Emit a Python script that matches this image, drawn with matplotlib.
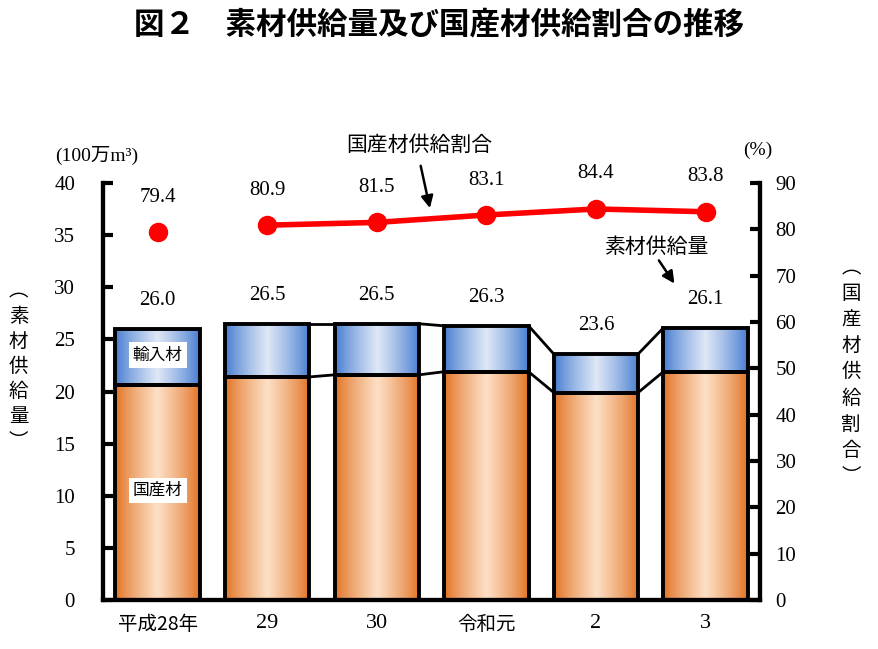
import matplotlib as mpl
mpl.use('Agg')
import matplotlib.pyplot as plt
import numpy as np

plt.rcParams['font.family'] = ['Noto Sans CJK JP', 'DejaVu Sans']

years = ['平成28年', '29', '30', '令和元', '2', '3']
total = [26.0, 26.5, 26.5, 26.3, 23.6, 26.1]
domestic = [20.6, 21.4, 21.6, 21.9, 19.9, 21.9]
share = [79.4, 80.9, 81.5, 83.1, 84.4, 83.8]

num_font = ['Liberation Serif', 'Noto Sans CJK JP']
w = 0.77
x = np.arange(len(years))
imported = [t - d for t, d in zip(total, domestic)]


def gradient(edge, center):
    t = np.linspace(0, 1, 256)
    k = (1 - np.abs(2 * t - 1)) ** 0.8
    edge = np.array(mpl.colors.to_rgb(edge))
    center = np.array(mpl.colors.to_rgb(center))
    return (edge[None, :] + (center - edge)[None, :] * k[:, None])[None, :, :]


orange = gradient('#e06e1c', '#fde0c6')
blue = gradient('#3f78cf', '#dfe8f6')

fig = plt.figure(figsize=(8.79, 6.49), dpi=100)
ax = fig.add_axes([0.117, 0.0755, 0.748, 0.6425])
ax2 = ax.twinx()

bars1 = ax.bar(x, domestic, w, color='none', edgecolor='black', linewidth=2.8, zorder=3)
bars2 = ax.bar(x, imported, w, bottom=domestic, color='none', edgecolor='black', linewidth=2.8, zorder=3)
for bars, img in ((bars1, orange), (bars2, blue)):
    for b in bars:
        x0, y0 = b.get_x(), b.get_y()
        im = ax.imshow(img, extent=[x0, x0 + b.get_width(), y0, y0 + b.get_height()],
                       aspect='auto', zorder=2, interpolation='bilinear')
        im.set_clip_path(b)

# connector lines between bars (from 29 onward)
for i in range(1, len(x) - 1):
    for v in (total, domestic):
        ax.plot([x[i] + w / 2, x[i + 1] - w / 2], [v[i], v[i + 1]], color='black', lw=2, zorder=3)

for i, t in enumerate(total):
    ax.text(x[i], t + 1.8, f'{t:.1f}', ha='center', va='bottom', fontsize=15, family=num_font)

ax.text(x[0], 23.5, '輸入材', ha='center', va='center', fontsize=12, zorder=5,
        bbox=dict(facecolor='white', edgecolor='none', pad=3))
ax.text(x[0], 10.5, '国産材', ha='center', va='center', fontsize=12, zorder=5,
        bbox=dict(facecolor='white', edgecolor='none', pad=3))

ax.set_xlim(-0.5, len(x) - 0.5)
ax.set_ylim(0, 40)
ax.set_yticks(range(0, 41, 5))
ax.set_xticks(x)
ax.set_xticklabels(years, fontsize=14)
for lab in ax.get_xticklabels()[1:]:
    if lab.get_text() != '令和元':
        lab.set_family(num_font)
        lab.set_fontsize(16)
ax.tick_params(axis='x', length=0, pad=10)
ax.tick_params(axis='y', direction='in', length=7, width=3, labelsize=15, pad=20)
for lab in ax.get_yticklabels():
    lab.set_family(num_font)

ax2.set_ylim(0, 90)
ax2.set_yticks(range(0, 91, 10))
ax2.tick_params(axis='y', direction='in', length=7, width=3, labelsize=15, pad=11)
for lab in ax2.get_yticklabels():
    lab.set_family(num_font)

for a in (ax, ax2):
    a.spines['top'].set_visible(False)
    for s in ('left', 'right', 'bottom'):
        a.spines[s].set_linewidth(3)

ax2.plot(x[1:], share[1:], color='#ff0000', lw=4, marker='o', markersize=13, zorder=4)
ax2.plot(x[0], share[0], color='#ff0000', marker='o', markersize=13, ls='none', zorder=4)
for i, s in enumerate(share):
    ax2.text(x[i], s + 5.5, f'{s:.1f}', ha='center', va='bottom', fontsize=15, family=num_font)

ax2.text(2.386, 98.2, '国産材供給割合', ha='center', va='center', fontsize=15)
ax2.annotate('', xy=(2.49, 84.0), xytext=(2.395, 94.3),
             arrowprops=dict(arrowstyle='-|>', color='black', lw=1.8, mutation_scale=18))
ax2.text(4.55, 76.2, '素材供給量', ha='center', va='center', fontsize=15)
ax2.annotate('', xy=(4.73, 67.8), xytext=(4.56, 73.8),
             arrowprops=dict(arrowstyle='-|>', color='black', lw=1.8, mutation_scale=18))

fig.text(0.0626, 0.761, '(100万m³)', ha='left', va='center', fontsize=14, family=num_font)
fig.text(0.845, 0.769, '(%)', ha='left', va='center', fontsize=14, family=num_font)
fig.text(0.021, 0.436, '︵\n素\n材\n供\n給\n量\n︶', ha='center', va='center', fontsize=14, linespacing=1.25)
fig.text(0.968, 0.427, '︵\n国\n産\n材\n供\n給\n割\n合\n︶', ha='center', va='center', fontsize=14, linespacing=1.32)

fig.text(0.5, 0.962, '図２　素材供給量及び国産材供給割合の推移', ha='center', va='center',
         fontsize=22, fontweight='bold')

fig.savefig('out.png', dpi=100)
